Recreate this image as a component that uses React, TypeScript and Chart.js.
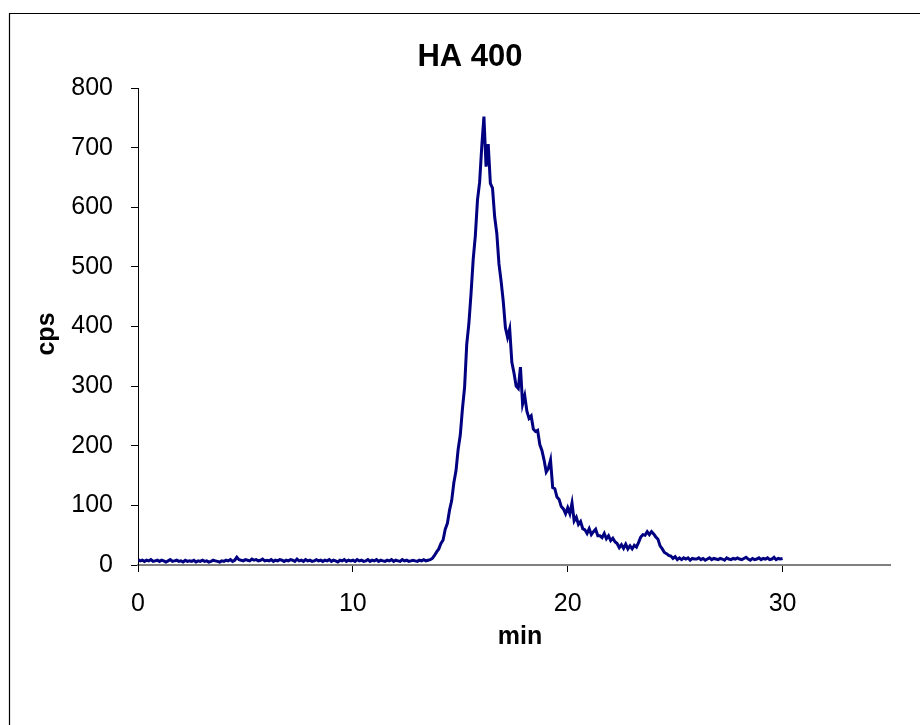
import React, { useEffect, useRef } from "react";
import { Chart, registerables } from "chart.js";

Chart.register(...registerables);

const chartTitle = "HA 400";
const xTitle = "min";
const yTitle = "cps";
const xTickValues = [0, 10, 20, 30];
const xMin = 0;
const xMax = 35;
const yMin = 0;
const yMax = 800;
const yStep = 100;

// sampling: one reading every 0.1 min from 0 to 30 min
const sampleStart = 0;
const sampleStep = 0.1;

// cps readings, 10 per minute
const cps = [
  9, 7, 8, 6, 8, 7, 9, 6, 7, 8,
  6, 8, 7, 5, 7, 9, 6, 7, 8, 6,
  7, 5, 8, 6, 7, 6, 8, 5, 7, 6,
  8, 6, 7, 5, 6, 8, 7, 6, 5, 7,
  6, 8, 7, 9, 6, 8, 13, 9, 8, 7,
  9, 8, 7, 10, 8, 9, 7, 8, 10, 7,
  8, 7, 9, 6, 8, 7, 9, 8, 6, 8,
  7, 9, 8, 6, 10, 7, 8, 6, 9, 7,
  8, 6, 7, 9, 7, 8, 6, 8, 7, 9,
  6, 8, 7, 5, 8, 7, 9, 6, 8, 7,
  8, 6, 9, 7, 8, 6, 7, 9, 6, 8,
  7, 9, 6, 8, 7, 6, 8, 7, 9, 6,
  8, 7, 6, 9, 7, 8, 6, 7, 8, 7,
  6, 8, 7, 9, 7, 8, 9, 11, 16, 22,
  27, 36, 42, 60, 70, 92, 108, 138, 158, 194,
  218, 262, 298, 370, 405, 455, 512, 552, 612, 642,
  702, 752, 668, 706, 640, 632, 584, 556, 505, 476,
  442, 398, 382, 396, 340, 322, 300, 296, 332, 270,
  284, 258, 246, 250, 228, 224, 226, 202, 192, 176,
  156, 162, 176, 130, 128, 114, 110, 98, 94, 86,
  96, 86, 104, 74, 80, 68, 73, 61, 59, 53,
  61, 51, 56, 60, 49, 49, 46, 53, 44, 49,
  41, 45, 39, 36, 29, 34, 28, 35, 27, 32,
  27, 33, 30, 38, 47, 51, 50, 56, 51, 56,
  52, 47, 43, 32, 27, 21, 19, 16, 15, 11,
  14, 9, 12, 9, 12, 10, 12, 8, 11, 10,
  10, 12, 9, 11, 8, 10, 12, 9, 11, 10,
  9, 11, 10, 8, 12, 10, 9, 11, 10, 12,
  10, 9, 11, 13, 10, 8, 11, 9, 10, 12,
  9, 11, 10, 12, 9, 10, 13, 9, 11, 10,
  11,
];

const FONT = "'Liberation Sans', Arial, sans-serif";

const frame = {
  id: "frame",
  beforeDraw(chart: any) {
    const ctx = chart.ctx;
    ctx.save();
    ctx.fillStyle = "#ffffff";
    ctx.fillRect(0, 0, chart.width, chart.height);
    ctx.strokeStyle = "#000000";
    ctx.lineWidth = 1.2;
    ctx.beginPath();
    ctx.moveTo(9.5, chart.height + 5);
    ctx.lineTo(9.5, 13.5);
    ctx.lineTo(chart.width + 5, 13.5);
    ctx.stroke();
    ctx.restore();
  },
  afterDraw(chart: any) {
    const ctx = chart.ctx;
    ctx.save();
    ctx.fillStyle = "#000000";
    ctx.textAlign = "center";
    ctx.textBaseline = "middle";
    ctx.font = `bold 31px ${FONT}`;
    ctx.fillText(chartTitle, 470, 57);
    ctx.font = `bold 25px ${FONT}`;
    ctx.fillText(xTitle, 520, 637);
    ctx.translate(47, 334);
    ctx.rotate(-Math.PI / 2);
    ctx.fillText(yTitle, 0, 0);
    ctx.restore();
  },
};

export default function App() {
  const ref = useRef<HTMLCanvasElement | null>(null);

  useEffect(() => {
    if (!ref.current) return;
    const points = cps.map((v, i) => ({
      x: +(sampleStart + i * sampleStep).toFixed(2),
      y: v,
    }));
    const chart = new Chart(ref.current, {
      type: "line",
      data: {
        datasets: [
          {
            label: chartTitle,
            data: points,
            borderColor: "#000080",
            backgroundColor: "#000080",
            borderWidth: 3,
            pointRadius: 0,
            tension: 0,
            fill: false,
          },
        ],
      },
      options: {
        animation: false,
        responsive: false,
        devicePixelRatio: 1,
        layout: { padding: { left: 0, top: 88, right: 30, bottom: 0 } },
        plugins: {
          legend: { display: false },
          tooltip: { enabled: false },
          title: { display: false },
        },
        scales: {
          x: {
            type: "linear",
            min: xMin,
            max: xMax,
            afterBuildTicks: (scale: any) => {
              scale.ticks = xTickValues.map((v) => ({ value: v }));
            },
            afterFit: (scale: any) => {
              scale.height = 160;
            },
            ticks: {
              color: "#000000",
              font: { family: FONT, size: 25 },
              padding: 17,
              maxRotation: 0,
              autoSkip: false,
            },
            grid: {
              drawOnChartArea: false,
              drawTicks: true,
              tickLength: 7,
              color: "#000000",
            },
            border: { display: true, color: "#808080", width: 2 },
          },
          y: {
            type: "linear",
            min: yMin,
            max: yMax,
            afterFit: (scale: any) => {
              scale.width = 138;
            },
            ticks: {
              stepSize: yStep,
              color: "#000000",
              font: { family: FONT, size: 25 },
              padding: 18,
            },
            grid: {
              drawOnChartArea: false,
              drawTicks: true,
              tickLength: 7,
              color: "#000000",
            },
            border: { display: true, color: "#000000", width: 1 },
          },
        },
      },
      plugins: [frame],
    });
    return () => chart.destroy();
  }, []);

  return (
    <div style={{ position: "absolute", left: 0, top: 0, width: 920, height: 725 }}>
      <canvas ref={ref} width={920} height={725} style={{ width: 920, height: 725, display: "block" }} />
    </div>
  );
}
